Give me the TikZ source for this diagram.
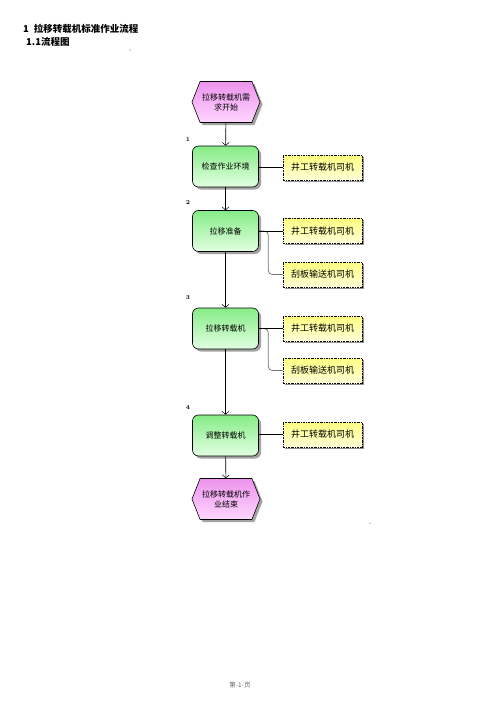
\documentclass[tikz,border=0pt]{standalone}
\usepackage{fontspec}
\newfontfamily\cjk{Noto Sans CJK SC}
\usetikzlibrary{shapes.symbols,shadows,arrows.meta,positioning}
\definecolor{gtop}{HTML}{86EC86}
\definecolor{gbot}{HTML}{E2FFE2}
\definecolor{ptop}{HTML}{EC94EC}
\definecolor{pbot}{HTML}{FFD6FF}
\definecolor{ytop}{HTML}{FFFF80}
\definecolor{ybot}{HTML}{FFFFDA}
\tikzset{
  stepbox/.style={draw=black, line width=0.6bp, rounded corners=6bp, minimum width=66bp, minimum height=41bp,
    top color=gtop, bottom color=gbot,
    drop shadow={shadow xshift=2.5bp, shadow yshift=-2.5bp, fill=black!45, opacity=0.8},
    font=\cjk\fontsize{8bp}{10bp}\selectfont, inner sep=1bp},
  hexbox/.style={draw=black, line width=0.6bp, shape=signal, signal to=west and east, signal pointer angle=137,
    minimum width=68bp, minimum height=41bp, inner sep=1bp, inner xsep=0bp,
    top color=ptop, bottom color=pbot,
    drop shadow={shadow xshift=2.5bp, shadow yshift=-2.5bp, fill=black!45, opacity=0.8},
    font=\cjk\fontsize{8bp}{10bp}\selectfont, align=center},
  rolebox/.style={draw=black, line width=0.8bp, dash pattern=on 2bp off 1bp on 0.6bp off 1bp,
    minimum width=79bp, minimum height=25bp, top color=ytop, bottom color=ybot,
    drop shadow={shadow xshift=1.5bp, shadow yshift=-1.5bp, fill=black!55, opacity=0.8},
    font=\cjk\fontsize{9bp}{11bp}\selectfont, inner sep=1bp},
  flow/.style={draw=black, line width=0.6bp, -{Straight Barb[length=3bp,width=7bp,line width=0.5bp]}},
  link/.style={draw=black, line width=0.7bp},
  branch/.style={draw=black!55, line width=0.7bp, rounded corners=4bp},
  num/.style={font=\fontsize{6bp}{7bp}\selectfont\bfseries, inner sep=0pt},
}
\begin{document}
\begin{tikzpicture}[x=1bp,y=-1bp]
\useasboundingbox (0,0) rectangle (496,702);
% header
\node[anchor=west, inner sep=0pt, font=\cjk\bfseries\fontsize{9.5bp}{11bp}\selectfont] (t1) at (23,29) {1\hspace{5bp}拉移转载机标准作业流程};
\node[anchor=west, inner sep=0pt, font=\cjk\bfseries\fontsize{9.5bp}{11bp}\selectfont] (t2) at (26,42) {1.1流程图};
\fill (130,50) circle (0.5);
\fill (370,523) circle (0.5);
% main chain
\node[hexbox] (s) at (226,102) {拉移转载机需\\求开始};
\node[stepbox] (b1) at (225.5,166.5) {检查作业环境};
\node[stepbox] (b2) at (225.5,231) {拉移准备};
\node[stepbox] (b3) at (225.5,328.5) {拉移转载机};
\node[stepbox] (b4) at (225.5,435.5) {调整转载机};
\node[hexbox] (e) at (226,499) {拉移转载机作\\业结束};
% numbers
\node[num] (n1) at (188,140) {1};
\node[num] (n2) at (188,203) {2};
\node[num] (n3) at (188,298) {3};
\node[num] (n4) at (188,408) {4};
% roles
\node[rolebox] (r1) at (322.5,167.5) {井工转载机司机};
\node[rolebox] (r2a) at (322.5,231) {井工转载机司机};
\node[rolebox] (r2b) at (322.5,274.5) {刮板输送机司机};
\node[rolebox] (r3a) at (322.5,328.5) {井工转载机司机};
\node[rolebox] (r3b) at (322.5,370.5) {刮板输送机司机};
\node[rolebox] (r4) at (322.5,434.5) {井工转载机司机};
% flow
\draw[flow] (s) -- (b1);
\draw[flow] (b1) -- (b2);
\draw[flow] (b2) -- (b3);
\draw[flow] (b3) -- (b4);
\draw[flow] (b4) -- (e);
% links
\draw[branch] (b2.east) -- ++(9.5,0) |- (r2b.west);
\draw[branch] (b3.east) -- ++(9.5,0) |- (r3b.west);
\draw[link] (b1.east |- r1.west) -- (r1.west);
\draw[link] (b2.east) -- (r2a.west);
\draw[link] (b3.east) -- (r3a.west);
\draw[link] (b4.east |- r4.west) -- (r4.west);
% footer
\node[font=\cjk\fontsize{6.5bp}{8bp}\selectfont, text=black!60, inner sep=0pt] (f) at (240,685) {第-1-页};
\end{tikzpicture}
\end{document}
